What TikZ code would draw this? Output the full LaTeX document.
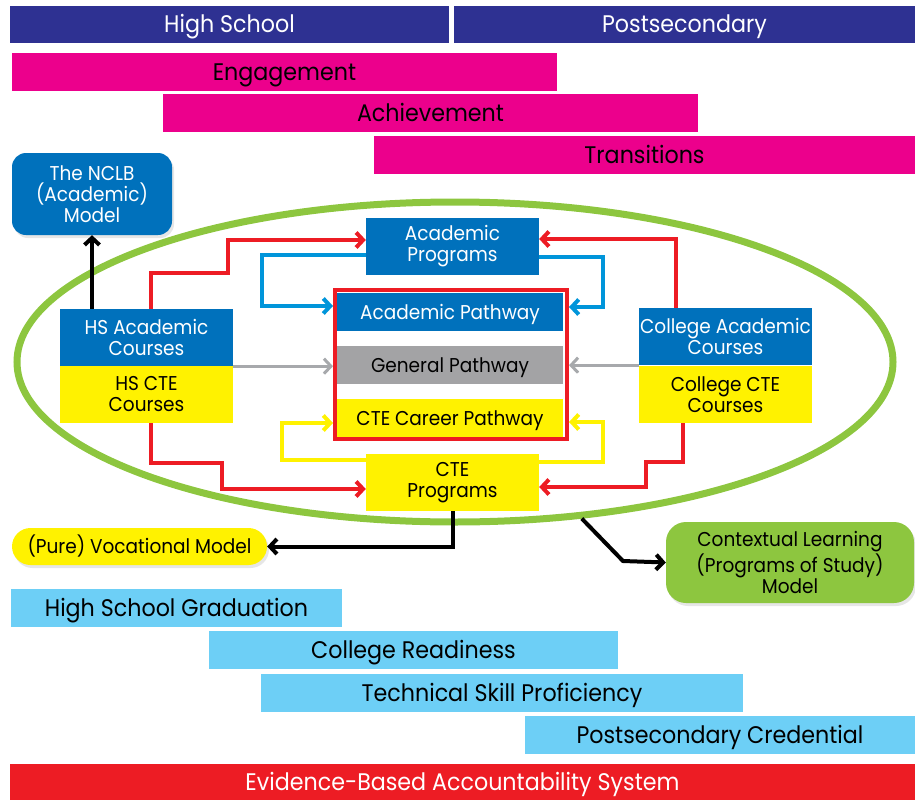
\documentclass[tikz,border=0pt]{standalone}
\usepackage{fontspec}
\setmainfont{Poppins}[FakeStretch=0.925]
\usetikzlibrary{arrows.meta,shapes.geometric,shadows}

\definecolor{navy}{HTML}{2E3192}
\definecolor{magenta}{HTML}{EC008C}
\definecolor{boxblue}{HTML}{0071BC}
\definecolor{boxyellow}{HTML}{FFF200}
\definecolor{boxgray}{HTML}{A3A3A5}
\definecolor{skyblue}{HTML}{6DCFF6}
\definecolor{alertred}{HTML}{ED1C24}
\definecolor{leafgreen}{HTML}{8DC63F}
\definecolor{lineblue}{HTML}{0095DA}
\definecolor{linegray}{HTML}{A7A9AC}

\tikzset{
  bar/.style={inner sep=0pt, font=\fontsize{24}{26}\selectfont, text height=16.8pt, text depth=0pt},
  box/.style={inner sep=0pt, align=center, font=\fontsize{20}{21}\selectfont},
  bluebox/.style={box, fill=boxblue, text=white, minimum width=173pt, minimum height=57pt},
  yellowbox/.style={box, fill=boxyellow, text=black, minimum width=173pt, minimum height=57pt},
  pathbox/.style={box, minimum width=226pt, minimum height=38pt, text height=14pt, text depth=0pt},
  softshadow/.style={drop shadow={opacity=0.2, shadow xshift=2pt, shadow yshift=-3pt}},
  conn/.style={line width=4pt, -{Straight Barb[length=7pt,width=15pt]}},
}

\begin{document}
\begin{tikzpicture}[x=1pt,y=-1pt]
\useasboundingbox (0,0) rectangle (915,800);

% header bars
\node[bar, fill=navy, text=white, minimum width=439pt, minimum height=37pt] (hs) at (229.5,24.5) {High School};
\node[bar, fill=navy, text=white, minimum width=461pt, minimum height=37pt] (ps) at (684.5,24.5) {Postsecondary};
\node[bar, fill=magenta, minimum width=545pt, minimum height=38pt] (eng) at (284.5,72) {Engagement};
\node[bar, fill=magenta, minimum width=535pt, minimum height=38pt] (ach) at (430.5,113) {Achievement};
\node[bar, fill=magenta, minimum width=541pt, minimum height=38pt] (tra) at (644.5,155) {Transitions};

% framing ellipse
\node[ellipse, draw=leafgreen, line width=7pt, minimum width=876pt, minimum height=320pt, inner sep=0pt] (ell) at (455,362) {};

% model boxes
\node[box, fill=boxblue, text=white, rounded corners=14pt, minimum width=160pt, minimum height=82pt, softshadow] (nclb) at (92,194) {The NCLB\\(Academic)\\Model};
\node[box, fill=boxyellow, rounded corners=18.5pt, minimum width=255pt, minimum height=37pt, softshadow] (voc) at (139.5,546.5) {(Pure) Vocational Model};
\node[box, fill=leafgreen, rounded corners=20pt, minimum width=248pt, minimum height=81pt, softshadow] (ctx) at (790,562.5) {Contextual Learning\\(Programs of Study)\\Model};

% course and program boxes
\node[bluebox] (hsacad) at (146.5,337.5) {HS Academic\\Courses};
\node[yellowbox] (hscte) at (146.5,394.5) {HS CTE\\Courses};
\node[bluebox] (colacad) at (725.5,336.5) {College Academic\\Courses};
\node[yellowbox] (colcte) at (725.5,394.5) {College CTE\\Courses};
\node[bluebox] (acprog) at (452.5,246.5) {Academic\\Programs};
\node[yellowbox] (cteprog) at (452.5,482.5) {CTE\\Programs};

% pathways
\node[draw=alertred, line width=4pt, minimum width=232pt, minimum height=149pt, inner sep=0pt] (frame) at (451,364.5) {};
\node[pathbox, fill=boxblue, text=white] (acpath) at (450,312) {Academic Pathway};
\node[pathbox, fill=boxgray] (genpath) at (450,365) {General Pathway};
\node[pathbox, fill=boxyellow] (ctepath) at (450,418) {CTE Career Pathway};

% connectors
\draw[conn] (hsacad.north -| nclb.south) -- (nclb.south);
\draw[conn, alertred] ([xshift=4.5pt]hsacad.north) |- (228,273) |- ([yshift=6.5pt]acprog.west);
\draw[conn, alertred] ([xshift=-49.5pt]colacad.north) |- ([yshift=7.5pt]acprog.east);
\draw[conn, alertred] ([xshift=4.5pt]hscte.south) |- (222,463) |- ([yshift=-6.5pt]cteprog.west);
\draw[conn, alertred] ([xshift=-42.5pt]colcte.south) |- (646,462) |- ([yshift=-4.5pt]cteprog.east);
\draw[conn, lineblue] ([yshift=-8.5pt]acprog.west) -| (262,306) -- ([yshift=6pt]acpath.west -| frame.west);
\draw[conn, lineblue] ([yshift=-10.5pt]acprog.east) -| (603,307) -- ([yshift=5pt]acpath.east -| frame.east);
\draw[conn, linegray, line width=3pt] (hsacad.south east) -- (hsacad.south east -| frame.west);
\draw[conn, linegray, line width=3pt] (colacad.south west) -- (colacad.south west -| frame.east);
\draw[conn, boxyellow] ([yshift=22.5pt]cteprog.west) -| (282,423) -- ([yshift=-5pt]ctepath.west -| frame.west);
\draw[conn, boxyellow] ([yshift=20.5pt]cteprog.east) -| (603,422) -- ([yshift=-4pt]ctepath.east -| frame.east);
\draw[conn] (cteprog.south) |- (voc.east);
\draw[conn] (ell.-51) -- (623,561) -- (ctx.west);

% outcome bars
\node[bar, fill=skyblue, minimum width=331pt, minimum height=38pt] (hsg) at (176.5,608) {High School Graduation};
\node[bar, fill=skyblue, minimum width=409pt, minimum height=38pt] (cr) at (413.5,650) {College Readiness};
\node[bar, fill=skyblue, minimum width=482pt, minimum height=38pt] (tsp) at (502,693) {Technical Skill Proficiency};
\node[bar, fill=skyblue, minimum width=390pt, minimum height=38pt] (psc) at (720,735) {Postsecondary Credential};
\node[bar, fill=alertred, text=white, minimum width=905pt, minimum height=36pt] (ebas) at (462.5,782) {Evidence-Based Accountability System};
\end{tikzpicture}
\end{document}
